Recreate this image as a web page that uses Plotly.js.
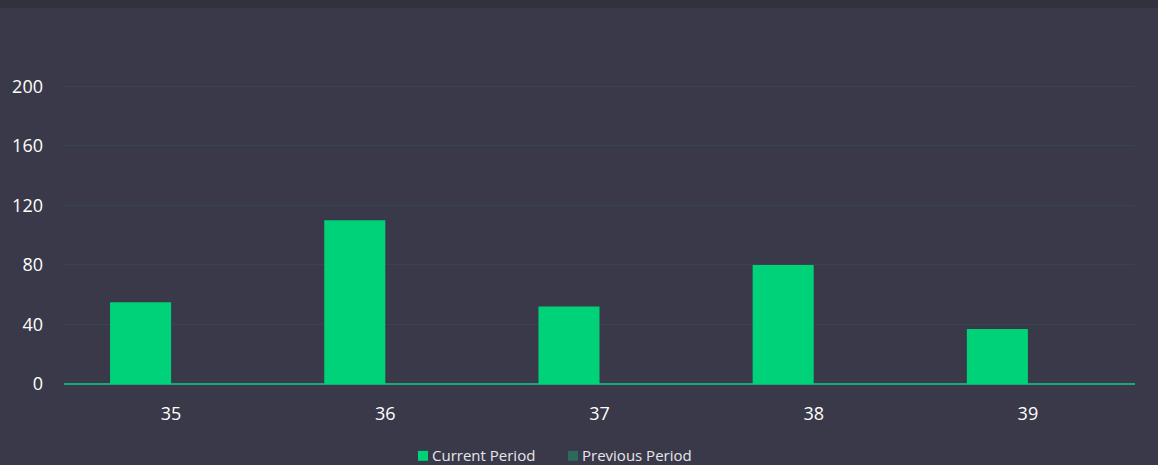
<!DOCTYPE html>
<html>
<head>
<meta charset="utf-8">
<script src="https://cdn.plot.ly/plotly-3.0.1.min.js"></script>
<style>
  html, body { margin: 0; padding: 0; background: #3a3949; overflow: hidden; }
  #strip { width: 1158px; height: 8px; background: #32313e; }
  #chart { width: 1158px; height: 457px; }
</style>
</head>
<body>
<div id="strip"></div>
<div id="chart"></div>
<script>
const categories = ['35', '36', '37', '38', '39'];
const currentPeriod = [55, 110, 52, 80, 37];
const previousPeriod = [0, 0, 0, 0, 0];
const yTicks = [0, 40, 80, 120, 160, 200];
const seriesNames = ['Current Period', 'Previous Period'];
const seriesColors = ['#00d27a', '#2b6b5b'];

const traces = [
  {
    type: 'bar', name: seriesNames[0], x: categories, y: currentPeriod,
    marker: { color: seriesColors[0] }, hoverinfo: 'x+y', showlegend: false
  },
  {
    type: 'bar', name: seriesNames[1], x: categories, y: previousPeriod,
    marker: { color: seriesColors[1] }, hoverinfo: 'x+y', showlegend: false
  }
];

// custom legend (compact symbol-text spacing like the reference)
const legendItems = [
  { sx0: 0.3305, sx1: 0.3399, tx: 0.3424 },
  { sx0: 0.4706, sx1: 0.4799, tx: 0.4824 }
];
const shapes = legendItems.map((it, i) => ({
  type: 'rect', xref: 'paper', yref: 'paper',
  x0: it.sx0, x1: it.sx1, y0: -0.209, y1: -0.240,
  fillcolor: seriesColors[i], line: { width: 0 }
}));
const annotations = legendItems.map((it, i) => ({
  xref: 'paper', yref: 'paper', x: it.tx, y: -0.2219,
  xanchor: 'left', yanchor: 'middle', showarrow: false, borderpad: 0,
  text: seriesNames[i], font: { size: 15, color: '#e6e6ec' }
}));

const layout = {
  width: 1158, height: 457,
  paper_bgcolor: '#3a3949', plot_bgcolor: '#3a3949',
  margin: { l: 64, r: 23, t: 56, b: 81 },
  barmode: 'group', bargap: 0.43, bargroupgap: 0,
  font: { family: 'Open Sans, sans-serif', color: '#ffffff', size: 18 },
  showlegend: false,
  shapes: shapes,
  annotations: annotations,
  xaxis: {
    type: 'category', showgrid: false, zeroline: false, showline: false,
    ticks: '', ticklabelstandoff: 17, tickfont: { size: 18, color: '#ffffff' }
  },
  yaxis: {
    range: [0, 215], tickvals: yTicks, ticktext: yTicks.map(String),
    showgrid: true, gridcolor: '#35464f', gridwidth: 1,
    zeroline: true, zerolinecolor: '#17a977', zerolinewidth: 2,
    showline: false, ticks: '', ticklabelstandoff: 20,
    tickfont: { size: 18, color: '#ffffff' }
  }
};

Plotly.newPlot('chart', traces, layout, { displayModeBar: false, staticPlot: true });
</script>
</body>
</html>
